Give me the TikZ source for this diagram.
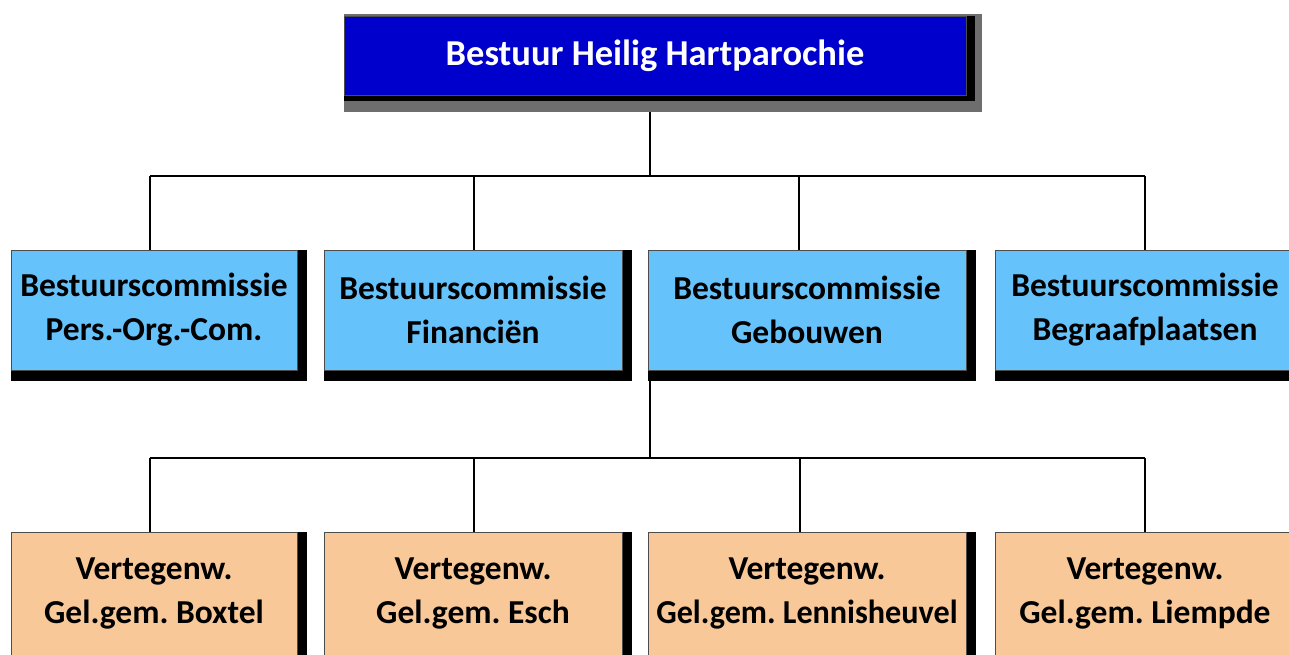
\documentclass[tikz,border=0pt]{standalone}
\usepackage{fontspec}
\setmainfont{Carlito}
\usetikzlibrary{backgrounds}
\definecolor{boardblue}{RGB}{0,0,204}
\definecolor{commblue}{RGB}{102,194,250}
\definecolor{reporange}{RGB}{248,200,152}
\definecolor{shadowgray}{RGB}{110,110,110}
\frenchspacing

\begin{document}
\begin{tikzpicture}[x=1pt, y=-1pt, % 1 unit = 1 pixel of the chart
        box/.style={draw=black!70, line width=0.8pt, inner sep=0pt, align=center,
            font=\fontsize{33.5}{44}\selectfont\bfseries},
        board/.style={box, fill=boardblue, text=white, minimum width=622pt, minimum height=79pt,
            font=\fontsize{36.5}{44}\selectfont\bfseries},
        comm/.style={box, fill=commblue, minimum height=120pt},
        rep/.style={box, fill=reporange, minimum height=123pt},
        link/.style={black, line width=2.5pt}]
        \clip (0,0) rectangle (1289,655);

        % Board
        \node[board] (board) at (655,55.5) {Bestuur Heilig Hartparochie};

        % Commissions
        \node[comm, minimum width=286pt] (comm1) at (154,310) {Bestuurscommissie\\Pers.-Org.-Com.};
        \node[comm, minimum width=298pt] (comm2) at (473,310) {Bestuurscommissie\\Financiën};
        \node[comm, minimum width=318pt] (comm3) at (807,310) {Bestuurscommissie\\Gebouwen};
        \node[comm, minimum width=300pt] (comm4) at (1145,310) {Bestuurscommissie\\Begraafplaatsen};

        % Representatives
        \node[rep, minimum width=286pt] (rep1) at (154,593.5) {Vertegenw.\\Gel.gem. Boxtel};
        \node[rep, minimum width=298pt] (rep2) at (473,593.5) {Vertegenw.\\Gel.gem. Esch};
        \node[rep, minimum width=318pt] (rep3) at (807,593.5) {Vertegenw.\\\scalebox{0.96}[1]{Gel.gem. Lennisheuvel}};
        \node[rep, minimum width=300pt] (rep4) at (1145,593.5) {Vertegenw.\\Gel.gem. Liempde};

        \coordinate (bus1) at (650,176);
        \coordinate (bus2) at (650,458);

        \begin{scope}[on background layer]
            % Connectors
            \draw[link] (bus1 |- board.south) -- (bus1);
            \draw[link] ([xshift=-4]comm1.north |- bus1) -- (comm4.north |- bus1);
            \foreach \nd/\dx in {comm1/-4,comm2/1,comm3/-8,comm4/0}
                \draw[link] ([xshift=\dx]\nd.north |- bus1) -- ([xshift=\dx]\nd.north);
            \draw[link] (bus2 |- comm3.south) -- (bus2);
            \draw[link] ([xshift=-4]rep1.north |- bus2) -- (rep4.north |- bus2);
            \foreach \nd/\dx in {rep1/-4,rep2/1,rep3/-7,rep4/0}
                \draw[link] ([xshift=\dx]\nd.north |- bus2) -- ([xshift=\dx]\nd.north);

            % Shadows
            \fill[shadowgray] ([yshift=2]board.north west) rectangle ([shift={(16,17)}]board.south east);
            \fill[black] (board.north west) rectangle ([shift={(9,6)}]board.south east);
            \foreach \nd in {comm1,comm2,comm3,comm4,rep1,rep2,rep3,rep4}
                \fill[black] (\nd.north west) rectangle ([shift={(10,11)}]\nd.south east);
        \end{scope}
\end{tikzpicture}
\end{document}
